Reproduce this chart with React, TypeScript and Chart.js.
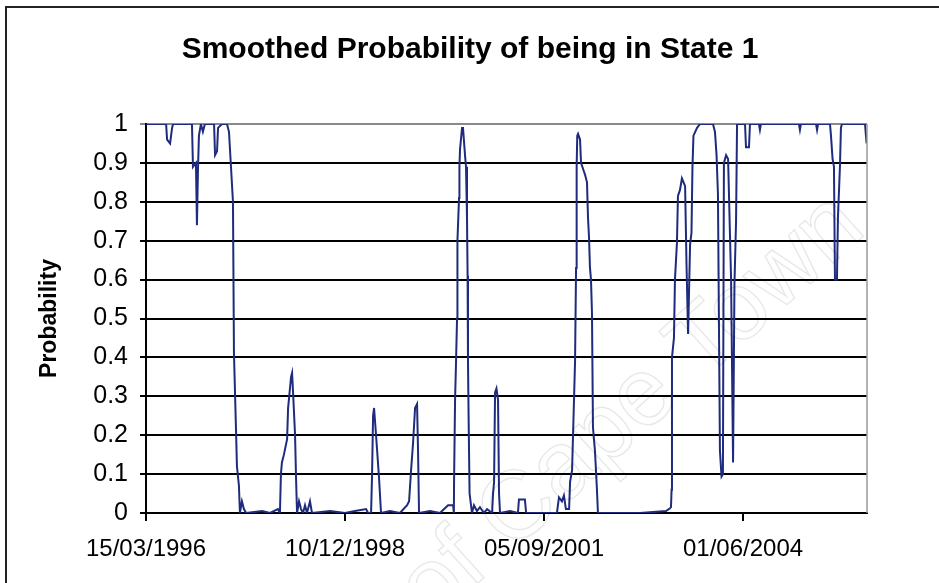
import React, { useEffect, useRef } from "react";
import { Chart, registerables } from "chart.js";

Chart.register(...registerables);

// Day offsets from 15/03/1996
const days = [
  0, 101, 106, 121, 131, 136, 231, 236, 251, 256, 261, 266, 276, 286, 296, 342, 347, 357, 362, 382,
  407, 417, 427, 437, 442, 452, 457, 467, 472, 482, 492, 503, 583, 623, 663, 673, 678, 683, 693, 709,
  714, 729, 734, 739, 749, 754, 759, 769, 779, 789, 799, 809, 824, 834, 925, 1000, 1050, 1106, 1116, 1131,
  1136, 1141, 1146, 1156, 1171, 1181, 1226, 1276, 1312, 1322, 1332, 1342, 1352, 1362, 1367, 1372, 1427, 1477, 1518, 1543,
  1547, 1548, 1553, 1558, 1563, 1565, 1573, 1575, 1578, 1588, 1593, 1603, 1608, 1613, 1616, 1618, 1621, 1626, 1638, 1648,
  1663, 1678, 1698, 1714, 1739, 1744, 1749, 1754, 1761, 1769, 1774, 1779, 1829, 1869, 1874, 1904, 1910, 1955, 2005, 2065,
  2075, 2090, 2100, 2110, 2126, 2131, 2141, 2156, 2161, 2164, 2167, 2171, 2181, 2186, 2196, 2206, 2216, 2221, 2226, 2231,
  2236, 2241, 2246, 2256, 2266, 2271, 2332, 2482, 2613, 2633, 2638, 2641, 2643, 2653, 2658, 2668, 2673, 2683, 2693, 2709,
  2716, 2724, 2734, 2741, 2746, 2751, 2769, 2784, 2849, 2859, 2867, 2874, 2884, 2892, 2899, 2904, 2915, 2925, 2940, 2950,
  2957, 2965, 2970, 3010, 3015, 3030, 3035, 3080, 3085, 3090, 3281, 3286, 3291, 3367, 3372, 3377, 3437, 3442, 3450, 3457,
  3462, 3472, 3477, 3487, 3492, 3497, 3613, 3621,
];

const probs = [
  1.0, 1.0, 0.96, 0.95, 0.99, 1.0, 1.0, 0.89, 0.9, 0.74, 0.88, 0.97, 1.0, 0.98, 1.0, 1.0, 0.92, 0.93, 0.99, 1.0,
  1.0, 0.98, 0.89, 0.8, 0.41, 0.22, 0.12, 0.07, 0.0, 0.03, 0.01, 0.0, 0.005, 0.0, 0.01, 0.0, 0.1, 0.13, 0.15, 0.19,
  0.27, 0.35, 0.36, 0.31, 0.2, 0.09, 0.0, 0.03, 0.01, 0.0, 0.02, 0.0, 0.03, 0.0, 0.005, 0.0, 0.005, 0.01, 0.0, 0.0,
  0.1, 0.25, 0.27, 0.2, 0.09, 0.0, 0.005, 0.0, 0.02, 0.03, 0.11, 0.18, 0.27, 0.28, 0.16, 0.0, 0.005, 0.0, 0.02, 0.02,
  0.0, 0.08, 0.29, 0.39, 0.5, 0.7, 0.81, 0.89, 0.935, 0.99, 0.99, 0.92, 0.89, 0.76, 0.61, 0.39, 0.25, 0.05, 0.0, 0.02,
  0.005, 0.015, 0.0, 0.01, 0.0, 0.05, 0.08, 0.31, 0.32, 0.29, 0.05, 0.0, 0.005, 0.0, 0.035, 0.035, 0.0, 0.0, 0.0, 0.0,
  0.04, 0.03, 0.045, 0.01, 0.01, 0.08, 0.11, 0.39, 0.63, 0.89, 0.97, 0.975, 0.96, 0.9, 0.885, 0.87, 0.85, 0.76, 0.71, 0.63,
  0.6, 0.515, 0.22, 0.16, 0.06, 0.0, 0.0, 0.0, 0.005, 0.012, 0.015, 0.06, 0.4, 0.45, 0.6, 0.695, 0.815, 0.83, 0.86, 0.84,
  0.64, 0.46, 0.69, 0.72, 0.89, 0.97, 0.99, 1.0, 1.0, 0.98, 0.92, 0.82, 0.16, 0.094, 0.1, 0.9, 0.92, 0.91, 0.6, 0.13,
  0.59, 0.75, 1.0, 1.0, 0.94, 0.94, 1.0, 1.0, 0.985, 1.0, 1.0, 0.985, 1.0, 1.0, 0.985, 1.0, 1.0, 0.97, 0.91, 0.89,
  0.6, 0.6, 0.76, 0.89, 0.99, 1.0, 1.0, 0.95,
];

const tickDays = [0, 1000, 2000, 3000];
const tickLabels = ["15/03/1996", "10/12/1998", "05/09/2001", "01/06/2004"];
const yTicks = [0, 0.1, 0.2, 0.3, 0.4, 0.5, 0.6, 0.7, 0.8, 0.9, 1];
const lastDay = 3623;
const chartTitle = "Smoothed Probability of being in State 1";
const yTitle = "Probability";
const watermark = "University of Cape Town";

const FONT = "'Liberation Sans', Arial, Helvetica, sans-serif";

const framePlugin = {
  id: "frame",
  beforeDraw(chart: any) {
    const c = chart.ctx;
    c.save();
    c.fillStyle = "#fff";
    c.fillRect(0, 0, chart.width, chart.height);
    c.strokeStyle = "#222";
    c.lineWidth = 2;
    c.beginPath();
    c.moveTo(6, chart.height + 5);
    c.lineTo(6, 7);
    c.lineTo(chart.width + 5, 7);
    c.stroke();
    c.restore();
  },
  afterDraw(chart: any) {
    const c = chart.ctx;
    const a = chart.chartArea;
    c.save();
    c.strokeStyle = "#9a9a9a";
    c.lineWidth = 1.5;
    c.beginPath();
    c.moveTo(a.right, a.top);
    c.lineTo(a.right, a.bottom);
    c.stroke();
    // faint watermark
    c.translate(868, 232);
    c.rotate((-42 * Math.PI) / 180);
    c.font = `96px ${FONT}`;
    c.textAlign = "right";
    c.textBaseline = "alphabetic";
    c.strokeStyle = "rgba(0,0,0,0.09)";
    c.lineWidth = 1.5;
    c.strokeText(watermark, 0, 0);
    c.restore();
  },
};

export default function App() {
  const ref = useRef<HTMLCanvasElement>(null);
  useEffect(() => {
    document.body.style.margin = "0";
    const canvas = ref.current!;
    const chart = new Chart(canvas, {
      type: "line",
      data: {
        datasets: [
          {
            data: days.map((d, i) => ({ x: d, y: probs[i] })),
            borderColor: "#1f2b7c",
            borderWidth: 2,
            pointRadius: 0,
            tension: 0,
            fill: false,
          },
        ],
      },
      options: {
        animation: false,
        responsive: false,
        layout: { padding: { left: 73, right: 72, top: 0, bottom: 0 } },
        plugins: {
          legend: { display: false },
          tooltip: { enabled: false },
          title: {
            display: true,
            text: chartTitle,
            color: "#000",
            font: { family: FONT, size: 30, weight: "bold" },
            padding: { top: 32, bottom: 56 },
          },
        },
        scales: {
          x: {
            type: "linear",
            min: 0,
            max: lastDay,
            afterBuildTicks: (s: any) => {
              s.ticks = tickDays.map((v) => ({ value: v }));
            },
            afterFit: (s: any) => {
              s.height = 70;
            },
            grid: {
              display: true,
              drawOnChartArea: false,
              drawTicks: true,
              tickLength: 8,
              color: "#000",
              lineWidth: 2,
            },
            border: { display: true, color: "#000", width: 2 },
            ticks: {
              autoSkip: false,
              maxRotation: 0,
              color: "#000",
              padding: 14,
              font: { family: FONT, size: 24 },
              callback: (v: any) => {
                const i = tickDays.indexOf(Number(v));
                return i >= 0 ? tickLabels[i] : "";
              },
            },
          },
          y: {
            min: 0,
            max: 1,
            afterBuildTicks: (s: any) => {
              s.ticks = yTicks.map((v) => ({ value: v }));
            },
            afterFit: (s: any) => {
              s.width = 73;
            },
            grid: {
              color: (ctx: any) => (ctx.tick && ctx.tick.value === 1 ? "#8a8a8a" : "#000"),
              lineWidth: 2,
              tickLength: 6,
            },
            border: { display: true, color: "#000", width: 2 },
            ticks: {
              color: "#000",
              padding: 12,
              font: { family: FONT, size: 25 },
              callback: (v: any) => String(Number(Number(v).toFixed(1))),
            },
            title: {
              display: true,
              text: yTitle,
              color: "#000",
              font: { family: FONT, size: 23, weight: "bold" },
              padding: { top: -37, bottom: 0 },
            },
          },
        },
      },
      plugins: [framePlugin],
    });
    return () => chart.destroy();
  }, []);

  return (
    <div style={{ position: "relative", width: 939, height: 583, background: "#fff", overflow: "hidden" }}>
      <canvas ref={ref} width={939} height={583} style={{ display: "block", width: 939, height: 583 }} />
    </div>
  );
}
